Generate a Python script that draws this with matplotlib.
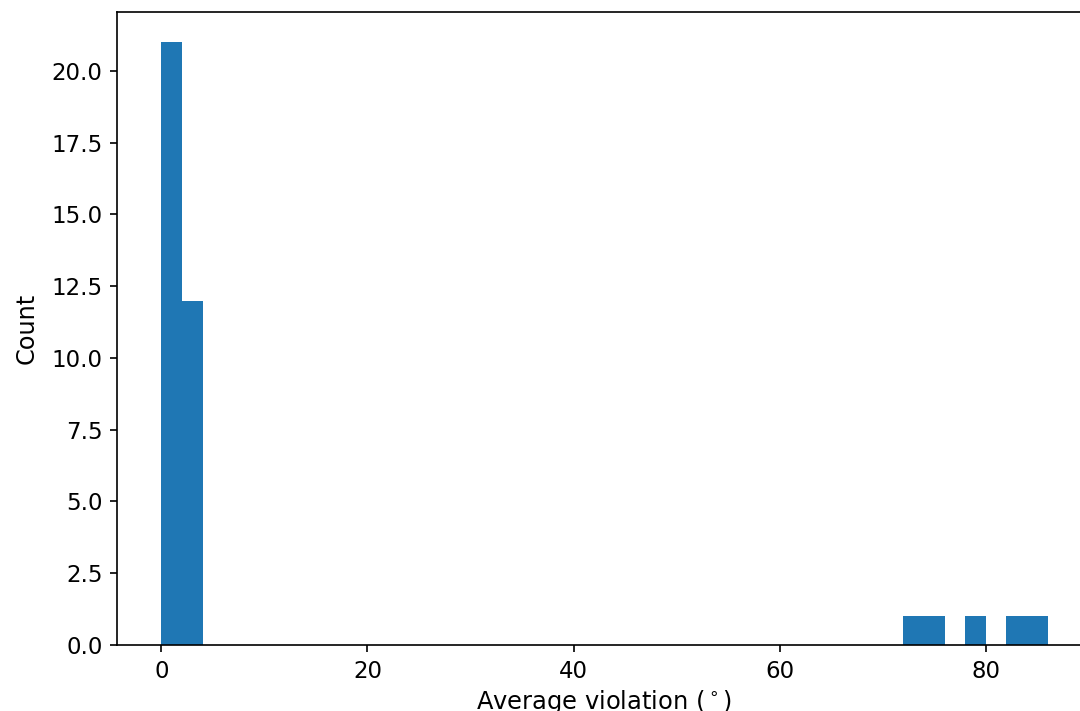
import matplotlib
matplotlib.use('Agg')
import matplotlib.pyplot as plt

# histogram bins (left edge, width 2 degrees) and counts
bin_left = [0, 2, 72, 74, 78, 82, 84]
counts = [21, 12, 1, 1, 1, 1, 1]
bin_width = 2

plt.rcParams['font.family'] = ['DejaVu Sans']

fig = plt.figure(figsize=(7.2, 4.74), dpi=150)
ax = fig.add_axes([0.1083, 0.0928, 0.9027, 0.8903])

ax.bar(bin_left, counts, width=bin_width, align='edge', color='#1f77b4', linewidth=0)
ax.set_xlim(-4.3, 90.3)
ax.set_ylim(0, 22.05)
ax.set_xticks([0, 20, 40, 60, 80])
ax.set_yticks([0, 2.5, 5, 7.5, 10, 12.5, 15, 17.5, 20])
ax.set_yticklabels(['0.0', '2.5', '5.0', '7.5', '10.0', '12.5', '15.0', '17.5', '20.0'])
ax.tick_params(labelsize=11)

ax.set_xlabel(r'Average violation ($^\circ$)', fontsize=11.6, labelpad=2.5)
ax.set_ylabel('Count', fontsize=11.5, labelpad=6)

plt.savefig('out.png', dpi=150)
